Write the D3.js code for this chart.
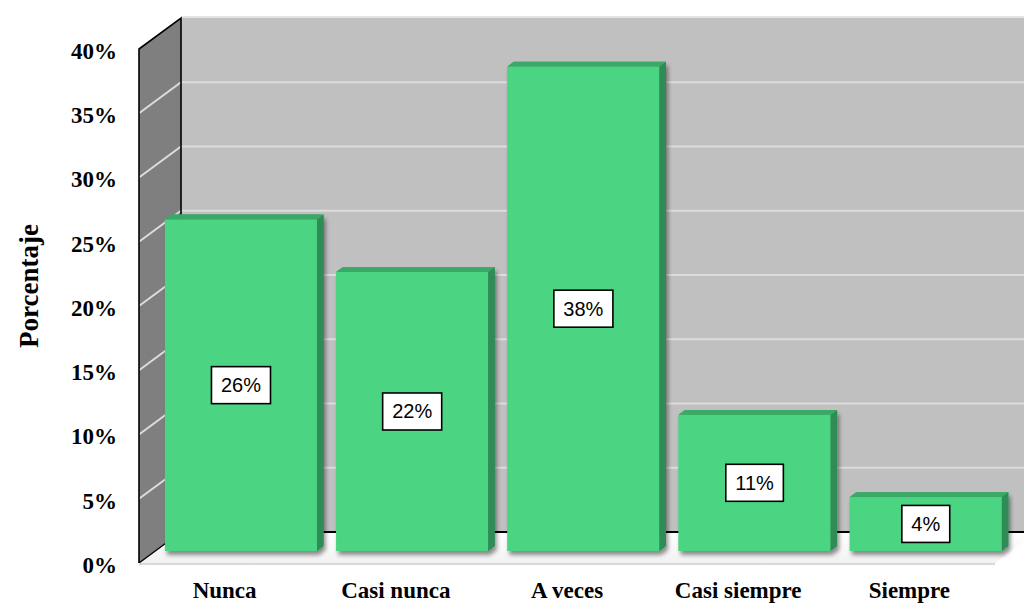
<!DOCTYPE html>
<html>
<head>
<meta charset="utf-8">
<script src="https://cdn.jsdelivr.net/npm/d3@7"></script>
<style>
  html, body { margin: 0; padding: 0; background: #fff; }
  svg { display: block; }
</style>
</head>
<body>
<svg id="chart" width="1024" height="604"></svg>
<script>
const categories = ["Nunca", "Casi nunca", "A veces", "Casi siempre", "Siempre"];
const values = [0.258, 0.217, 0.377, 0.106, 0.042];
const labels = ["26%", "22%", "38%", "11%", "4%"];
const yTicks = [0, 0.05, 0.10, 0.15, 0.20, 0.25, 0.30, 0.35, 0.40];
const yTickLabels = ["0%", "5%", "10%", "15%", "20%", "25%", "30%", "35%", "40%"];
const yTitle = "Porcentaje";

const svg = d3.select("#chart");

// front plane geometry + depth vector
const DX = 42, DY = -31;
const x = d3.scaleBand().domain(categories).range([139, 995]).paddingInner(0.112).paddingOuter(0.056);
const y = d3.scaleLinear().domain([0, 0.40]).range([563, 49]);
const P = (px, py, f) => [px + DX * f, py + DY * f];

const x0 = x.range()[0], x1 = x.range()[1];
const yTop = y(0.40), yBot = y(0);

const defs = svg.append("defs");
const fg = defs.append("linearGradient").attr("id", "floorGrad").attr("x1", 0).attr("y1", 0).attr("x2", 0).attr("y2", 1);
fg.append("stop").attr("offset", "0%").attr("stop-color", "#ffffff");
fg.append("stop").attr("offset", "100%").attr("stop-color", "#f2f2f2");
const sh = defs.append("filter").attr("id", "shadow").attr("x", "-10%").attr("y", "-10%").attr("width", "130%").attr("height", "130%");
sh.append("feDropShadow").attr("dx", 2).attr("dy", 4).attr("stdDeviation", 2.2).attr("flood-color", "#000").attr("flood-opacity", 0.45);

const poly = pts => pts.map(p => p.join(",")).join(" ");

// back wall
const bw = [P(x0, yTop, 1), P(x1, yTop, 1), P(x1, yBot, 1), P(x0, yBot, 1)];
svg.append("polygon").attr("points", poly(bw)).attr("fill", "#c0c0c0");
svg.append("line").attr("x1", bw[0][0]).attr("x2", bw[1][0]).attr("y1", bw[0][1] - 1).attr("y2", bw[0][1] - 1)
  .attr("stroke", "#e4e4e4").attr("stroke-width", 2);

// side wall
const sw = [P(x0, yTop, 0), P(x0, yTop, 1), P(x0, yBot, 1), P(x0, yBot, 0)];
svg.append("polygon").attr("points", poly(sw)).attr("fill", "#7f7f7f");

// floor
const fl = [P(x0, yBot, 0), P(x0, yBot, 1), P(x1, yBot, 1), P(x1, yBot, 0)];
svg.append("polygon").attr("points", poly(fl)).attr("fill", "url(#floorGrad)");

// gridlines (side + back)
const grid = svg.append("g");
yTicks.filter(t => t > 0 && t < 0.40).forEach(t => {
  const a = P(x0, y(t), 0), b = P(x0, y(t), 1), c = P(x1, y(t), 1);
  grid.append("polyline").attr("points", poly([a, b, c])).attr("fill", "none")
    .attr("stroke", "#dcdcdc").attr("stroke-width", 2);
});

// side wall outline
svg.append("polyline").attr("points", poly([P(x0, yBot, 0), P(x0, yTop, 0), P(x0, yTop, 1), P(x0, yBot, 1)]))
  .attr("fill", "none").attr("stroke", "#000").attr("stroke-width", 1.6);
svg.append("line").attr("x1", P(x0, yBot, 0)[0]).attr("y1", P(x0, yBot, 0)[1])
  .attr("x2", P(x0, yBot, 1)[0]).attr("y2", P(x0, yBot, 1)[1]).attr("stroke", "#000").attr("stroke-width", 1.4);
// back floor edge
svg.append("line").attr("x1", P(x0, yBot, 1)[0]).attr("y1", P(x0, yBot, 1)[1])
  .attr("x2", P(x1, yBot, 1)[0]).attr("y2", P(x1, yBot, 1)[1]).attr("stroke", "#000").attr("stroke-width", 2);
// front floor edge
svg.append("line").attr("x1", x0).attr("y1", yBot + 1).attr("x2", x1).attr("y2", yBot + 1)
  .attr("stroke", "#d9d9d9").attr("stroke-width", 2);

// bars
const F0 = 0.39, F1 = 0.545;
const bdx = DX * (F1 - F0), bdy = DY * (F1 - F0);
const bars = svg.append("g").selectAll("g").data(categories.map((c, i) => ({ c, v: values[i], l: labels[i] })))
  .enter().append("g");
bars.each(function(d) {
  const g = d3.select(this);
  const [xl, yt] = P(x(d.c), y(d.v), F0);
  const [xr, yb] = P(x(d.c) + x.bandwidth(), y(0), F0);
  const drawBody = sel => {
    sel.append("rect").attr("x", xl).attr("y", yt).attr("width", xr - xl).attr("height", yb - yt).attr("fill", "#4bd582");
    sel.append("polygon").attr("points", poly([[xr, yt], [xr + bdx, yt + bdy], [xr + bdx, yb + bdy], [xr, yb]])).attr("fill", "#2f8c56");
    sel.append("polygon").attr("points", poly([[xl, yt], [xl + bdx, yt + bdy], [xr + bdx, yt + bdy], [xr, yt]])).attr("fill", "#3aa866");
  };
  drawBody(g.append("g").attr("filter", "url(#shadow)"));
  drawBody(g.append("g"));

  // data label
  const cx = (xl + xr) / 2, cy = (yt + yb) / 2;
  const lg = g.append("g");
  const txt = lg.append("text").attr("x", cx).attr("y", cy).attr("text-anchor", "middle").attr("dominant-baseline", "central")
    .attr("font-family", "'Liberation Sans', Arial, sans-serif").attr("font-size", 20).attr("fill", "#000").text(d.l);
  const tw = txt.node().getComputedTextLength();
  lg.insert("rect", "text").attr("x", cx - tw / 2 - 9.5).attr("y", cy - 18.5).attr("width", tw + 19).attr("height", 37)
    .attr("fill", "#fff").attr("stroke", "#000").attr("stroke-width", 1.6);
});

// y axis labels
const yAxis = d3.axisLeft(y).tickValues(yTicks).tickFormat((d, i) => yTickLabels[i]).tickSize(0).tickPadding(22);
const ya = svg.append("g").attr("transform", `translate(${x0},2)`).call(yAxis);
ya.select(".domain").remove();
ya.selectAll("text").attr("font-family", "'Liberation Serif', 'Times New Roman', serif").attr("font-weight", "bold")
  .attr("font-size", 23).attr("fill", "#000");

// x axis labels
const xAxis = d3.axisBottom(x).tickSize(0).tickPadding(19);
const xa = svg.append("g").attr("transform", `translate(0,${yBot})`).call(xAxis);
xa.select(".domain").remove();
xa.selectAll("text").attr("font-family", "'Liberation Serif', 'Times New Roman', serif").attr("font-weight", "bold")
  .attr("font-size", 23).attr("fill", "#000");

// y title
svg.append("text").attr("transform", "translate(38,286) rotate(-90)").attr("text-anchor", "middle")
  .attr("font-family", "'Liberation Serif', 'Times New Roman', serif").attr("font-weight", "bold").attr("font-size", 27)
  .attr("fill", "#000").text(yTitle);
</script>
</body>
</html>
